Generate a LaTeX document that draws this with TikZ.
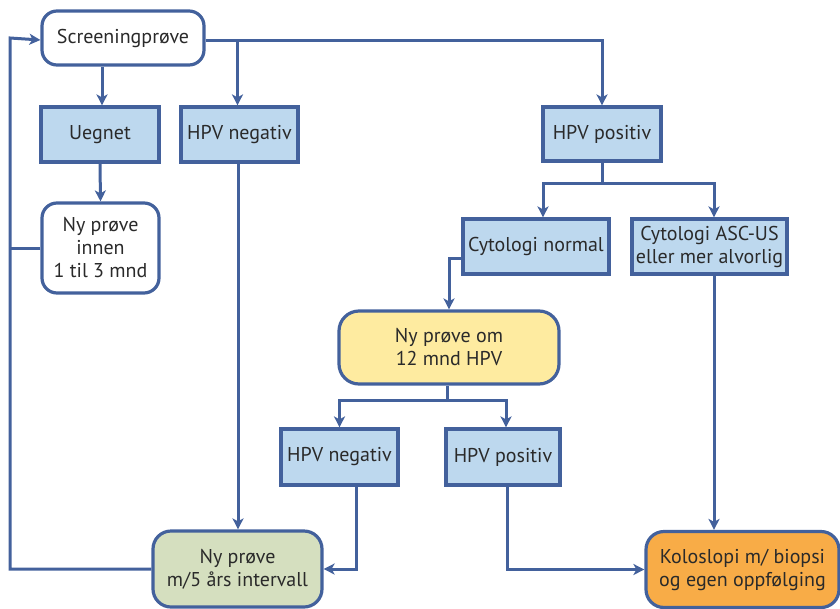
\documentclass[tikz,border=0pt]{standalone}
\usepackage{fontspec}
\setmainfont{PT Sans}
\usetikzlibrary{arrows.meta}
\definecolor{lineblue}{HTML}{43619C}
\definecolor{boxblue}{HTML}{BDD8EE}
\definecolor{boxyellow}{HTML}{FEEBA0}
\definecolor{boxgreen}{HTML}{D5DFBF}
\definecolor{boxorange}{HTML}{F8AC47}
\definecolor{txt}{HTML}{2A2A2A}
\tikzset{
  base/.style={draw=lineblue, line width=3.2pt, inner sep=0pt, align=center,
    text=txt, font=\fontsize{20}{23}\selectfont},
  sqbox/.style={base, fill=boxblue, rectangle},
  rbox/.style={base, rounded corners=15pt},
  conn/.style={draw=lineblue, line width=3pt},
  arr/.style={conn, -{Stealth[length=11pt,width=11pt,inset=3pt]}},
}
\begin{document}
\begin{tikzpicture}[x=1pt,y=-1pt]
\useasboundingbox (0,0) rectangle (840,608);
% nodes
\node[rbox, fill=white, minimum width=162pt, minimum height=54pt] (scr) at (123,38) {Screeningprøve};
\node[sqbox, minimum width=118pt, minimum height=55pt] (ueg) at (100,134.5) {Uegnet};
\node[sqbox, minimum width=117pt, minimum height=55pt] (hneg1) at (239.5,134.5) {HPV negativ};
\node[sqbox, minimum width=118pt, minimum height=54pt] (hpos1) at (602,134) {HPV positiv};
\node[rbox, fill=white, minimum width=117pt, minimum height=90pt] (nyi) at (100.5,248) {Ny prøve\\innen\\1 til 3 mnd};
\node[sqbox, minimum width=146pt, minimum height=55pt] (cyn) at (536,246.5) {Cytologi normal};
\node[sqbox, minimum width=155pt, minimum height=55pt] (cya) at (709.5,246.5) {Cytologi ASC-US\\eller mer alvorlig};
\node[rbox, rounded corners=20pt, fill=boxyellow, minimum width=220pt, minimum height=73pt] (yel) at (449,347.5) {Ny prøve om\\12 mnd HPV};
\node[sqbox, minimum width=117pt, minimum height=56pt] (hneg2) at (339.5,457) {HPV negativ};
\node[sqbox, minimum width=114pt, minimum height=56pt] (hpos2) at (503,457) {HPV positiv};
\node[rbox, rounded corners=18pt, fill=boxgreen, minimum width=169pt, minimum height=76pt] (grn) at (237.5,569) {Ny prøve\\m/5 års intervall};
\node[rbox, rounded corners=18pt, fill=boxorange, minimum width=193pt, minimum height=76pt] (kol) at (742.5,569.5) {Koloslopi m/ biopsi\\og egen oppfølging};
% branch points
\coordinate (loopx) at (10,0);
\coordinate (b1) at (602,183);
\coordinate (b2) at (447,400);
% connectors
\draw[arr] ([xshift=2pt]ueg.north |- scr.south) -- ([xshift=2pt]ueg.north);
\draw[arr] ([yshift=-2pt]scr.east) -| (hpos1.north);
\draw[arr] ([xshift=-2pt,yshift=-2pt]hneg1.north |- scr.east) -- ([xshift=-2pt]hneg1.north);
\draw[arr] (ueg.south) -- (nyi.north);
\draw[conn] (nyi.west) -- (loopx |- nyi.west);
\draw[arr] (grn.west) -- (loopx |- grn.west) -- (loopx |- scr.west) -- ([yshift=-2pt]scr.west);
\draw[arr] ([xshift=-1.5pt]hneg1.south) -- ([xshift=-1.5pt]hneg1.south |- grn.north);
\draw[conn] (hpos1.south) -- (b1);
\draw[arr] (b1) -| ([xshift=7pt]cyn.north);
\draw[arr] (b1) -| ([xshift=4.5pt]cya.north);
\draw[arr] ([yshift=-11.5pt]cyn.west) -| (yel.north);
\draw[conn] ([xshift=-2pt]yel.south) -- (b2);
\draw[arr] (b2) -| (hneg2.north);
\draw[arr] (b2) -| ([xshift=3pt]hpos2.north);
\draw[arr] ([xshift=17pt]hneg2.south) |- (grn.east);
\draw[arr] ([xshift=4pt]hpos2.south) |- (kol.west);
\draw[arr] ([xshift=4.5pt]cya.south) -- ([xshift=4.5pt]cya.south |- kol.north);
\end{tikzpicture}
\end{document}
